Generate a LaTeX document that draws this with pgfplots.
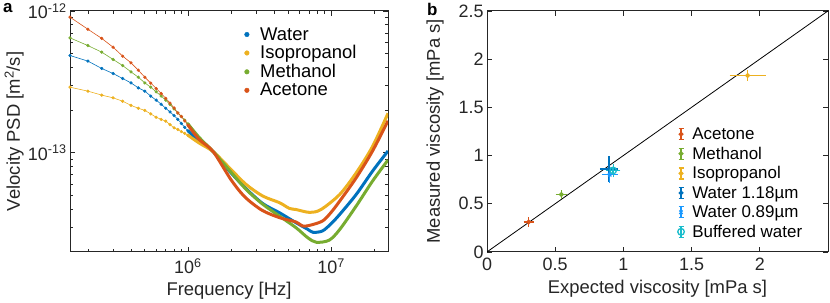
\documentclass[border=0pt]{standalone}
\usepackage{fontspec}
\setmainfont{Liberation Sans}
\usepackage{pgfplots}
\pgfplotsset{compat=1.18}
\definecolor{cblue}{rgb}{0,0.447,0.741}
\definecolor{corange}{rgb}{0.85,0.325,0.098}
\definecolor{cyellow}{rgb}{0.929,0.694,0.125}
\definecolor{cgreen}{rgb}{0.466,0.674,0.188}
\definecolor{clblue}{rgb}{0.1,0.6,1}
\definecolor{ccyan}{rgb}{0.1,0.74,0.80}
\definecolor{axgray}{rgb}{0.15,0.15,0.15}
\newcommand{\mytfont}{\fontsize{18}{20}\selectfont}
\newcommand{\mylfont}{\fontsize{18.5}{21}\selectfont}
\begin{document}
\begin{tikzpicture}
\pgfplotsset{
  every axis/.append style={
    scale only axis,
    axis line style={axgray, line width=0.9bp},
    every tick/.style={axgray, line width=0.7bp},
    tick align=inside,
    major tick length=5bp, minor tick length=3bp,
    tick label style={font=\mytfont, text=axgray},
    xticklabel style={yshift=-3bp},
    label style={font=\mylfont, text=axgray},
    xlabel style={yshift=-2bp},
    /pgf/number format/assume math mode=true,
  },
  ebar/.style={only marks, line width=1.3bp,
    error bars/.cd, x dir=both, x explicit, y dir=both, y explicit,
    error bar style={line width=1.4bp}, error mark options={mark size=3bp, line width=1.3bp}},
}
% ---------------- panel a ----------------
\begin{axis}[
  at={(70bp,47bp)}, anchor=south west, width=318bp, height=241bp,
  xmode=log, ymode=log,
  xmin=1.5e5, xmax=2.5e7, ymin=2e-14, ymax=1e-12,
  xtick={1e6,1e7}, xticklabels={10\textsuperscript{6},10\textsuperscript{7}},
  ytick={1e-13,1e-12}, yticklabels={10\textsuperscript{-13},10\textsuperscript{-12}},
  minor xtick={2e5,3e5,4e5,5e5,6e5,7e5,8e5,9e5,2e6,3e6,4e6,5e6,6e6,7e6,8e6,9e6,2e7},
  minor ytick={3e-14,4e-14,5e-14,6e-14,7e-14,8e-14,9e-14,2e-13,3e-13,4e-13,5e-13,6e-13,7e-13,8e-13,9e-13},
  xlabel={Frequency [Hz]},
  ylabel={Velocity PSD [m\textsuperscript{2}/s]},
  ylabel style={at={(axis description cs:-0.176,0.5)}, anchor=center},
  legend style={at={(0.539,0.949)}, anchor=north west, draw=none, fill=none,
     font=\mylfont, row sep=0bp, column sep=9bp},
  legend cell align=left,
]
\addlegendimage{only marks, mark=*, mark size=2.3bp, cblue}
\addlegendentry{Water}
\addlegendimage{only marks, mark=*, mark size=2.3bp, cyellow}
\addlegendentry{Isopropanol}
\addlegendimage{only marks, mark=*, mark size=2.3bp, cgreen}
\addlegendentry{Methanol}
\addlegendimage{only marks, mark=*, mark size=2.3bp, corange}
\addlegendentry{Acetone}
% Water
\addplot[cblue, line width=0.6bp, mark=*, mark size=1.3bp, forget plot] coordinates {
(1.5e5,4.85e-13)(2.0e5,4.43e-13)(2.5e5,3.93e-13)(3.0e5,3.62e-13)(3.5e5,3.34e-13)
(4.0e5,3.11e-13)(4.5e5,2.87e-13)(5.0e5,2.72e-13)(5.5e5,2.51e-13)(6.0e5,2.35e-13)
(6.5e5,2.20e-13)(7.0e5,2.06e-13)(7.5e5,1.94e-13)(8.0e5,1.83e-13)(8.5e5,1.72e-13)
(9.0e5,1.61e-13)(9.5e5,1.51e-13)(1.0e6,1.43e-13)};
\addplot[cblue, line width=3bp, smooth, forget plot] coordinates {
(1.0e6,1.43e-13)(1.2e6,1.21e-13)(1.5e6,1.02e-13)(1.95e6,7.43e-14)(2.55e6,5.58e-14)
(3.34e6,4.38e-14)(4.36e6,3.78e-14)(5.7e6,3.21e-14)(6.9e6,2.88e-14)(7.5e6,2.75e-14)
(8.7e6,2.81e-14)(1.0e7,3.16e-14)(1.15e7,3.68e-14)(1.5e7,5.09e-14)(1.95e7,7.43e-14)(2.5e7,1.03e-13)};
% Isopropanol
\addplot[cyellow, line width=0.6bp, mark=*, mark size=1.3bp, forget plot] coordinates {
(1.5e5,2.90e-13)(2.0e5,2.72e-13)(2.5e5,2.55e-13)(3.0e5,2.44e-13)(3.5e5,2.31e-13)
(4.0e5,2.16e-13)(4.5e5,2.06e-13)(5.0e5,1.99e-13)(5.5e5,1.88e-13)(6.0e5,1.78e-13)
(6.5e5,1.72e-13)(7.0e5,1.67e-13)(7.5e5,1.58e-13)(8.0e5,1.50e-13)(8.5e5,1.46e-13)
(9.0e5,1.41e-13)(9.5e5,1.37e-13)(1.0e6,1.33e-13)};
\addplot[cyellow, line width=3bp, smooth, forget plot] coordinates {
(1.0e6,1.33e-13)(1.2e6,1.17e-13)(1.5e6,1.02e-13)(1.95e6,7.83e-14)(2.55e6,5.98e-14)
(3.34e6,4.95e-14)(4.36e6,4.45e-14)(5.1e6,4.06e-14)(5.7e6,3.98e-14)(7.1e6,3.80e-14)
(8.5e6,3.98e-14)(1.15e7,5.09e-14)(1.5e7,7.23e-14)(1.95e7,1.11e-13)(2.5e7,1.90e-13)};
% Methanol
\addplot[cgreen, line width=0.6bp, mark=*, mark size=1.3bp, forget plot] coordinates {
(1.5e5,6.46e-13)(2.0e5,5.70e-13)(2.5e5,5.12e-13)(3.0e5,4.55e-13)(3.5e5,4.12e-13)
(4.0e5,3.72e-13)(4.5e5,3.41e-13)(5.0e5,3.11e-13)(5.5e5,2.90e-13)(6.0e5,2.69e-13)
(6.5e5,2.51e-13)(7.0e5,2.35e-13)(7.5e5,2.19e-13)(8.0e5,2.04e-13)(8.5e5,1.91e-13)
(9.0e5,1.80e-13)(9.5e5,1.70e-13)(1.0e6,1.60e-13)};
\addplot[cgreen, line width=3bp, smooth, forget plot] coordinates {
(1.0e6,1.60e-13)(1.2e6,1.28e-13)(1.5e6,1.02e-13)(1.95e6,7.52e-14)(2.55e6,5.52e-14)
(3.34e6,4.33e-14)(4.36e6,3.58e-14)(5.7e6,2.96e-14)(6.9e6,2.51e-14)(7.9e6,2.34e-14)
(9.7e6,2.42e-14)(1.15e7,2.88e-14)(1.5e7,4.22e-14)(1.95e7,6.32e-14)(2.5e7,8.9e-14)};
% Acetone
\addplot[corange, line width=0.6bp, mark=*, mark size=1.3bp, forget plot] coordinates {
(1.5e5,9.04e-13)(2.0e5,7.43e-13)(2.5e5,6.40e-13)(3.0e5,5.55e-13)(3.5e5,4.80e-13)
(4.0e5,4.31e-13)(4.5e5,3.82e-13)(5.0e5,3.41e-13)(5.5e5,3.10e-13)(6.0e5,2.84e-13)
(6.5e5,2.62e-13)(7.0e5,2.42e-13)(7.5e5,2.24e-13)(8.0e5,2.07e-13)(8.5e5,1.91e-13)
(9.0e5,1.80e-13)(9.5e5,1.68e-13)(1.0e6,1.57e-13)};
\addplot[corange, line width=3bp, smooth, forget plot] coordinates {
(1.0e6,1.57e-13)(1.2e6,1.24e-13)(1.5e6,1.02e-13)(2.0e6,6.46e-14)(2.5e6,4.88e-14)
(3.3e6,3.93e-14)(4.4e6,3.48e-14)(5.7e6,3.25e-14)(6.3e6,3.05e-14)(7.0e6,3.07e-14)
(8.7e6,3.30e-14)(1.0e7,3.80e-14)(1.15e7,4.57e-14)(1.5e7,6.67e-14)(1.95e7,1.03e-13)(2.5e7,1.68e-13)};
\end{axis}
% ---------------- panel b ----------------
\begin{axis}[
  at={(487bp,47bp)}, anchor=south west, width=341bp, height=241bp,
  xmin=0, xmax=2.5, ymin=0, ymax=2.5,
  xtick={0,0.5,1,1.5,2}, ytick={0,0.5,1,1.5,2,2.5},
  xlabel={Expected viscosity [mPa s]},
  ylabel={Measured viscosity [mPa s]},
  ylabel style={at={(axis description cs:-0.1525,0.5)}, anchor=center},
  legend style={at={(0.55,0.533)}, anchor=north west, draw=none, fill=none,
     font=\fontsize{17}{20}\selectfont, row sep=2bp, column sep=6bp},
  legend cell align=left,
  legend image code/.code={
    \draw[#1, mark=none, line width=1.2bp] (0.15cm,-5.5bp) -- (0.15cm,5.5bp)
      (0.15cm-2.5bp,-5.5bp) -- (0.15cm+2.5bp,-5.5bp) (0.15cm-2.5bp,5.5bp) -- (0.15cm+2.5bp,5.5bp);
    \draw[#1] plot coordinates {(0.15cm,0)};},
]
\addplot[black, line width=0.8bp, forget plot] coordinates {(0,0)(2.5,2.5)};
\addplot[corange, mark=*, mark size=1.8bp, ebar]
  coordinates {(0.305,0.31) +- (0.015,0.02)};
\addlegendentry{Acetone}
\addplot[cgreen, mark=*, mark size=1.8bp, ebar]
  coordinates {(0.545,0.595) +- (0.02,0.015)};
\addlegendentry{Methanol}
\addplot[cyellow, mark=*, mark size=1.8bp, ebar]
  coordinates {(1.91,1.83) +- (0.11,0.025)};
\addlegendentry{Isopropanol}
\addplot[cblue, mark=*, mark size=1.8bp, ebar]
  coordinates {(0.895,0.86) +- (0.045,0.10)};
\addlegendentry{Water 1.18\textmu m}
\addplot[clblue, mark=x, mark size=2.4bp, ebar]
  coordinates {(0.90,0.80) +- (0.035,0.05)};
\addlegendentry{Water 0.89\textmu m}
\addplot[ccyan, mark=o, mark size=3.3bp, ebar]
  coordinates {(0.925,0.845) +- (0.03,0.04)};
\addlegendentry{Buffered water}
\end{axis}
\node[font=\bfseries\fontsize{17}{20}\selectfont, anchor=north west, inner sep=0pt] at (3bp,296bp) {a};
\node[font=\bfseries\fontsize{17}{20}\selectfont, anchor=north west, inner sep=0pt] at (427bp,296bp) {b};
\useasboundingbox (0,0) rectangle (830bp,298bp);
\end{tikzpicture}
\end{document}
